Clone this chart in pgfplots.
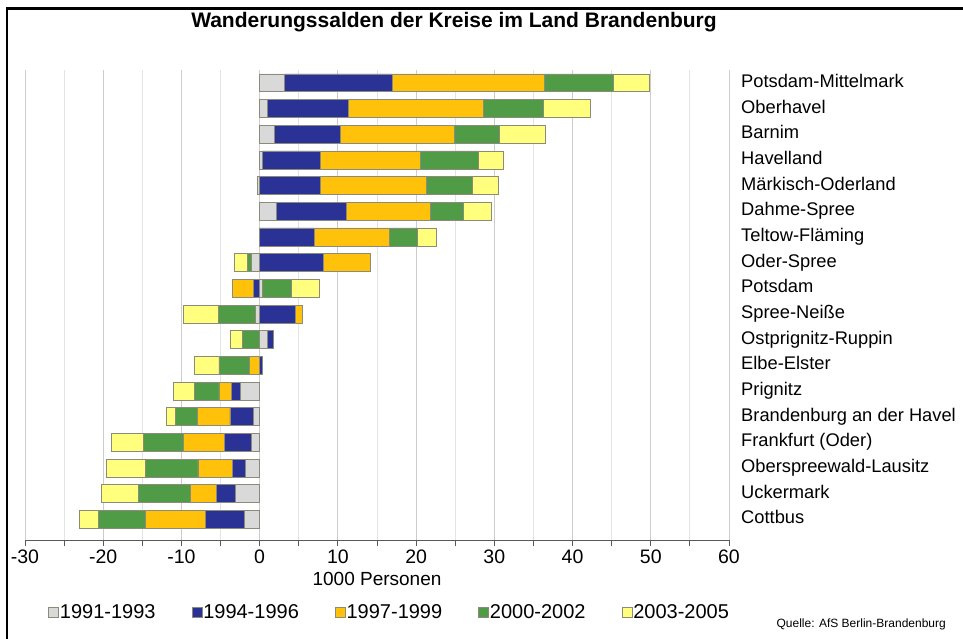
\documentclass[border=0pt]{standalone}
\usepackage{fontspec}
\setmainfont{Liberation Sans}
\usepackage{pgfplots}
\usepackage{pgfplotstable}
\pgfplotsset{compat=1.18}

\definecolor{cGrey}{RGB}{217,217,217}
\definecolor{cBlue}{RGB}{42,50,150}
\definecolor{cOrange}{RGB}{255,193,10}
\definecolor{cGreen}{RGB}{80,156,70}
\definecolor{cYellow}{RGB}{255,255,125}
\definecolor{cOutline}{RGB}{140,138,120}

% positive parts (1000 persons)
\pgfplotstableread{
idx g b o gr y
0 3.2 13.7 19.5 8.8 4.6
1 1.0 10.4 17.2 7.7 6.0
2 1.9 8.4 14.6 5.8 5.8
3 0.3 7.4 12.8 7.5 3.1
4 0 7.8 13.5 5.9 3.3
5 2.1 9.0 10.7 4.2 3.6
6 0 7.0 9.6 3.5 2.5
7 0 8.2 5.9 0 0
8 0.4 0 0 3.7 3.5
9 0 4.5 1.0 0 0
10 1.0 0.8 0 0 0
11 0 0.3 0 0 0
12 0 0 0 0 0
13 0 0 0 0 0
14 0 0 0 0 0
15 0 0 0 0 0
16 0 0 0 0 0
17 0 0 0 0 0
}\pos

% negative parts (1000 persons)
\pgfplotstableread{
idx g b o gr y
0 0 0 0 0 0
1 0 0 0 0 0
2 0 0 0 0 0
3 0 0 0 0 0
4 -0.3 0 0 0 0
5 0 0 0 0 0
6 0 0 0 0 0
7 -1.1 0 0 -0.5 -1.6
8 0 -0.8 -2.7 0 0
9 -0.5 0 0 -4.8 -4.5
10 0 0 0 -2.2 -1.6
11 0 0 -1.3 -3.9 -3.1
12 -2.5 -1.1 -1.6 -3.1 -2.7
13 -0.8 -3.0 -4.2 -2.8 -1.1
14 -1.1 -3.4 -5.3 -5.1 -4.0
15 -1.8 -1.7 -4.4 -6.7 -5.0
16 -3.1 -2.4 -3.3 -6.7 -4.7
17 -2.0 -4.9 -7.7 -6.0 -2.5
}\neg

\pgfplotsset{
  common/.style={
    at={(25pt,-540pt)}, anchor=south west,
    scale only axis, width=704pt, height=470pt,
    xmin=-30, xmax=60, ymin=-0.5, ymax=17.8, y dir=reverse,
    xbar stacked, bar width=0.7,
    every axis plot/.append style={draw=cOutline, line width=0.7pt},
  },
}

\begin{document}
\begin{tikzpicture}
\begin{axis}[common,
  axis x line*=bottom, axis y line*=right,
  y axis line style={draw=none},
  x axis line style={draw=gray!70!black, line width=1pt},
  xtick={-30,-20,...,60},
  xticklabels={-30,-20,-10,0,10,20,30,40,50,60},
  minor xtick={-25,-15,...,55},
  tick align=outside,
  major tick length=6pt, minor tick length=6pt,
  xtick style={draw=gray!70!black, line width=0.8pt},
  minor tick style={draw=gray!70!black, line width=0.8pt},
  xmajorgrids, xminorgrids,
  major grid style={draw=gray!40, line width=0.8pt},
  minor grid style={draw=gray!22, line width=0.8pt},
  extra x ticks={0}, extra x tick labels={},
  extra x tick style={grid style={draw=gray!70!black, line width=1pt}},
  xticklabel style={font=\fontsize{19.5}{23}\selectfont},
  ytick={0,...,17},
  ytick style={draw=none},
  yticklabels={Potsdam-Mittelmark,Oberhavel,Barnim,Havelland,Märkisch-Oderland,Dahme-Spree,Teltow-Fläming,Oder-Spree,Potsdam,Spree-Neiße,Ostprignitz-Ruppin,Elbe-Elster,Prignitz,Brandenburg an der Havel,Frankfurt (Oder),Oberspreewald-Lausitz,Uckermark,Cottbus},
  yticklabel style={anchor=west, font=\fontsize{18.3}{22}\selectfont, inner sep=0pt,
    text height=13pt, text depth=4pt, xshift=6pt},
  xlabel={1000 Personen},
  xlabel style={font=\fontsize{19}{23}\selectfont, yshift=10pt},
  legend columns=5,
  legend style={at={(axis description cs:0.0327,-0.153)}, anchor=west, draw=none, fill=none,
    inner sep=0pt, font=\fontsize{20}{24}\selectfont,
    nodes={inner sep=1pt},
    /tikz/every even column/.append style={column sep=35pt}},
  legend image code/.code={\draw[#1, draw=cOutline, line width=0.7pt] (0pt,-5pt) rectangle (10pt,5pt);},
]
\addplot[fill=cGrey] table[x=g, y=idx] {\pos};
\addlegendentry{1991-1993}
\addplot[fill=cBlue] table[x=b, y=idx] {\pos};
\addlegendentry{1994-1996}
\addplot[fill=cOrange] table[x=o, y=idx] {\pos};
\addlegendentry{1997-1999}
\addplot[fill=cGreen] table[x=gr, y=idx] {\pos};
\addlegendentry{2000-2002}
\addplot[fill=cYellow] table[x=y, y=idx] {\pos};
\addlegendentry{2003-2005}
\end{axis}
\begin{axis}[common, hide axis]
\addplot[fill=cGrey] table[x=g, y=idx] {\neg};
\addplot[fill=cBlue] table[x=b, y=idx] {\neg};
\addplot[fill=cOrange] table[x=o, y=idx] {\neg};
\addplot[fill=cGreen] table[x=gr, y=idx] {\neg};
\addplot[fill=cYellow] table[x=y, y=idx] {\neg};
\end{axis}
\node[font=\bfseries\fontsize{21}{25}\selectfont] at (454pt,-22pt) {Wanderungssalden der Kreise im Land Brandenburg};
\node[anchor=east, font=\fontsize{12}{14}\selectfont, inner sep=0pt] at (946pt,-624pt) {Quelle: AfS Berlin-Brandenburg};
\draw[line width=2.7pt] (7pt,-645pt) -- (7pt,-8.5pt) -- (970pt,-8.5pt);
\pgfresetboundingbox
\path (0pt,0pt) rectangle (963pt,-639pt);
\end{tikzpicture}
\end{document}
